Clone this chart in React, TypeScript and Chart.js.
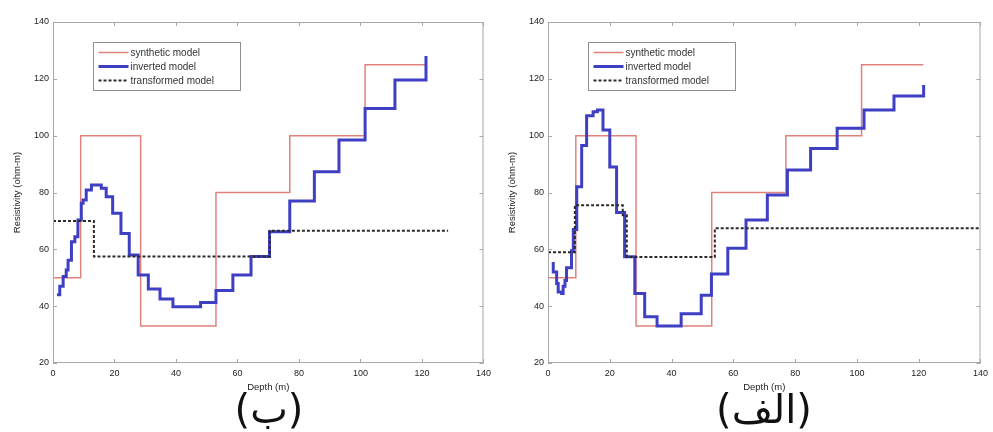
import React, { useEffect, useRef } from 'react';
import { Chart, registerables } from 'chart.js';

Chart.register(...registerables);

// ---------- data ----------
const seriesNames = ['synthetic model', 'inverted model', 'transformed model'];
const xTitle = 'Depth (m)';
const yTitle = 'Resistivity (ohm-m)';
const panelLabels = ['(ب)', '(الف)'];
const xTicks = [0, 20, 40, 60, 80, 100, 120, 140];
const yTicks = [20, 40, 60, 80, 100, 120, 140];

// synthetic (true) model, same in both panels: [depth where layer starts, resistivity]
const synthX = [0, 9, 28.5, 53, 77, 101.5, 121.5];
const synthY = [50, 100, 33, 80, 100, 125, 125];

// panel (ب) – left
const invBX = [1.3, 2.2, 3.3, 4.3, 4.9, 6.0, 7.1, 8.1, 9.2, 9.8, 10.8, 12.5, 15.7, 17.3, 19.4, 22.1, 24.8, 27.7, 31.0, 34.8, 39.0, 48.0, 53.0, 58.5, 64.4, 70.4, 77.0, 85.0, 93.0, 101.5, 111.2, 121.3, 121.3];
const invBY = [44, 47, 50.4, 52.7, 56.2, 62.7, 64.4, 70.3, 76.2, 77.4, 80.9, 82.6, 81.5, 78.5, 72.7, 65.6, 58, 51, 46, 42.5, 39.8, 41.3, 45.5, 51, 57.5, 66.2, 77, 87.3, 98.5, 109.6, 119.6, 119.6, 128];
const trBX = [0, 13.3, 70.5, 128.5];
const trBY = [70, 57.5, 66.5, 66.5];

// panel (الف) – right
const invAX = [1.2, 1.7, 2.8, 3.3, 4.4, 4.9, 5.5, 6.0, 7.6, 8.2, 9.3, 10.9, 12.5, 14.6, 16.0, 17.8, 20.0, 22.2, 24.8, 28.1, 31.3, 35.3, 43.1, 49.6, 52.9, 58.2, 64.1, 71.0, 77.5, 85.0, 93.6, 102.3, 112.0, 121.6, 121.6];
const invAY = [55, 52, 48, 45, 44.5, 47, 49, 53.5, 59.5, 67, 82, 96.5, 107, 108.4, 109, 102, 89, 73, 57.4, 44.5, 36.3, 33, 37.3, 43.8, 51.3, 60.4, 70.3, 79.1, 87.9, 95.5, 102.6, 109, 114, 114, 117.8];
const trAX = [0, 8.7, 24.2, 25.5, 54, 140];
const trAY = [59, 75.5, 72, 57.3, 67.4, 67.4];

// ---------- helpers ----------
const pts = (xs: number[], ys: number[]) => xs.map((x, i) => ({ x, y: ys[i] }));
const FONT = '"Liberation Sans", Arial, sans-serif';

const frameLegend = {
  id: 'frameLegend',
  afterDatasetsDraw(chart: any) {
    const { ctx, chartArea: a, scales } = chart;
    ctx.save();
    ctx.strokeStyle = '#a8a8a8';
    ctx.lineWidth = 1;
    ctx.strokeRect(a.left + 0.5, a.top + 0.5, a.right - a.left - 1, a.bottom - a.top - 1);
    const seg = (x1: number, y1: number, x2: number, y2: number) => {
      ctx.beginPath();
      ctx.moveTo(x1, y1);
      ctx.lineTo(x2, y2);
      ctx.stroke();
    };
    for (const t of scales.x.ticks) {
      const px = Math.round(scales.x.getPixelForValue(t.value)) + 0.5;
      seg(px, a.bottom, px, a.bottom - 4);
      seg(px, a.top, px, a.top + 4);
    }
    for (const t of scales.y.ticks) {
      const py = Math.round(scales.y.getPixelForValue(t.value)) + 0.5;
      seg(a.left, py, a.left + 4, py);
      seg(a.right, py, a.right - 4, py);
    }
    // legend box
    const bx = a.left + 40.5;
    const by = a.top + 20.5;
    const bw = 147;
    const bh = 48;
    ctx.fillStyle = '#ffffff';
    ctx.fillRect(bx, by, bw, bh);
    ctx.strokeStyle = '#909090';
    ctx.strokeRect(bx, by, bw, bh);
    ctx.font = `10px ${FONT}`;
    ctx.textBaseline = 'middle';
    ctx.textAlign = 'left';
    chart.data.datasets.forEach((ds: any, i: number) => {
      const ry = by + 10 + i * 14;
      ctx.strokeStyle = ds.borderColor;
      ctx.lineWidth = ds.borderWidth;
      ctx.setLineDash(ds.borderDash || []);
      seg(bx + 5, ry, bx + 35, ry);
      ctx.setLineDash([]);
      ctx.fillStyle = '#333';
      ctx.fillText(ds.label, bx + 37, ry + 0.5);
    });
    ctx.restore();
  },
};

function Panel(props: { invX: number[]; invY: number[]; trX: number[]; trY: number[]; left: number; width: number; label: string }) {
  const ref = useRef<HTMLCanvasElement>(null);
  useEffect(() => {
    const chart = new Chart(ref.current as HTMLCanvasElement, {
      type: 'line',
      data: {
        datasets: [
          {
            label: seriesNames[0],
            data: pts(synthX, synthY),
            stepped: 'before',
            borderColor: '#e0827c',
            borderWidth: 1.5,
            pointRadius: 0,
            fill: false,
            order: 3,
          },
          {
            label: seriesNames[1],
            data: pts(props.invX, props.invY),
            stepped: 'before',
            borderColor: '#3f3fc4',
            borderWidth: 3,
            pointRadius: 0,
            fill: false,
            order: 2,
          },
          {
            label: seriesNames[2],
            data: pts(props.trX, props.trY),
            stepped: 'before',
            borderColor: '#2a2a2a',
            borderWidth: 2,
            borderDash: [3, 2],
            pointRadius: 0,
            fill: false,
            order: 1,
          },
        ],
      },
      options: {
        animation: false,
        responsive: false,
        maintainAspectRatio: false,
        layout: { padding: { left: 12, top: 22, right: props.width - 53 - 435, bottom: 0 } },
        plugins: { legend: { display: false }, tooltip: { enabled: false }, title: { display: false } },
        scales: {
          x: {
            type: 'linear',
            min: 0,
            max: 140,
            afterBuildTicks: (s: any) => { s.ticks = xTicks.map((v) => ({ value: v })); },
            afterFit: (s: any) => { s.height = 30; },
            grid: { display: false, drawTicks: false },
            border: { display: false },
            ticks: { padding: 5, color: '#222', font: { family: FONT, size: 9 }, maxRotation: 0 },
            title: { display: true, text: xTitle, color: '#222', font: { family: FONT, size: 9.5 }, padding: 0 },
          },
          y: {
            type: 'linear',
            min: 20,
            max: 140,
            afterBuildTicks: (s: any) => { s.ticks = yTicks.map((v) => ({ value: v })); },
            afterFit: (s: any) => { s.width = 41; },
            grid: { display: false, drawTicks: false },
            border: { display: false },
            ticks: { padding: 4, color: '#222', font: { family: FONT, size: 9 } },
            title: { display: true, text: yTitle, color: '#222', font: { family: FONT, size: 9.5 }, padding: 0 },
          },
        },
      },
      plugins: [frameLegend],
    } as any);
    return () => chart.destroy();
  }, []);
  return (
    <>
      <canvas ref={ref} width={props.width} height={393} style={{ position: 'absolute', left: props.left, top: 0, width: props.width, height: 393 }} />
      <div
        style={{
          position: 'absolute',
          left: props.left + 53 + 216,
          top: 386,
          transform: 'translateX(-50%)',
          fontFamily: '"DejaVu Sans", sans-serif',
          fontSize: 40,
          lineHeight: '46px',
          color: '#111',
          whiteSpace: 'nowrap',
        }}
      >
        {props.label}
      </div>
    </>
  );
}

export default function App() {
  return (
    <div style={{ position: 'absolute', left: 0, top: 0, width: 993, height: 432, background: '#fff', overflow: 'hidden' }}>
      <Panel invX={invBX} invY={invBY} trX={trBX} trY={trBY} left={0} width={496} label={panelLabels[0]} />
      <Panel invX={invAX} invY={invAY} trX={trAX} trY={trAY} left={495} width={498} label={panelLabels[1]} />
    </div>
  );
}
